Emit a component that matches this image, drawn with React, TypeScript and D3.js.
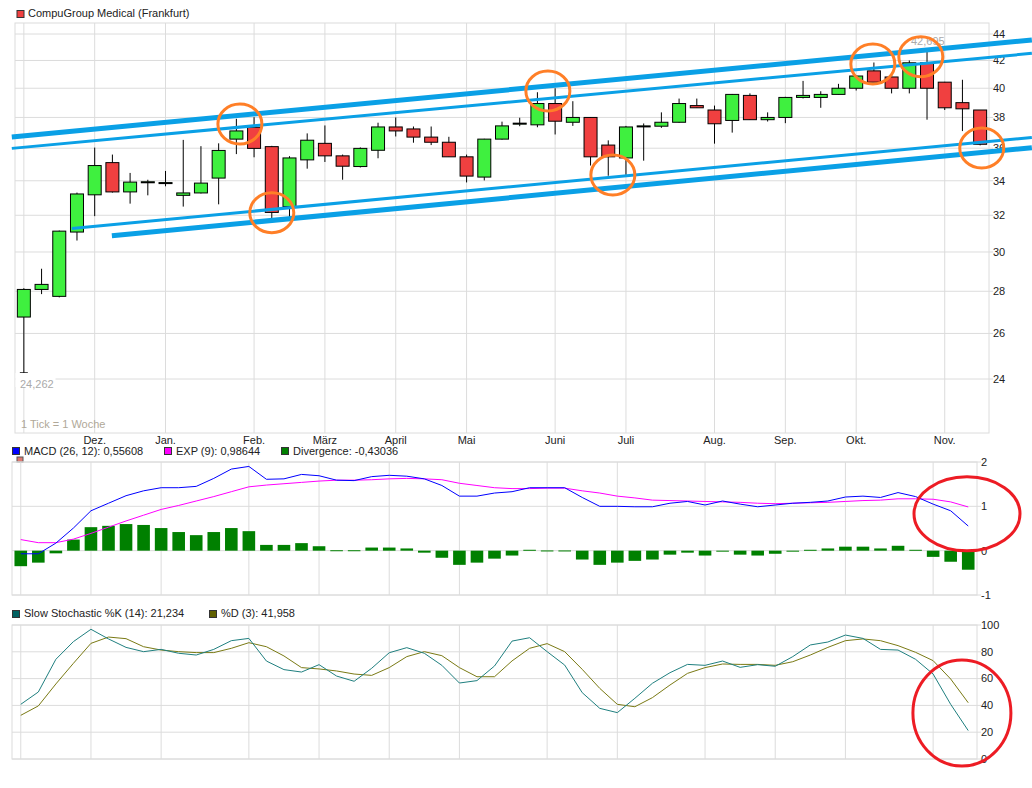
import React from "react";
import * as d3 from "d3";

// weekly candles, CompuGroup Medical (Frankfurt)
const opens = [26.76, 28.09, 27.75, 31.07, 33.17, 35.1, 33.34, 33.88, 33.85, 33.14, 33.28, 34.16, 36.58, 37.35, 36.1, 32.49, 35.27, 36.31, 35.52, 34.86, 35.87, 37.37, 37.24, 36.71, 36.38, 35.46, 34.22, 36.58, 37.58, 37.51, 38.94, 37.68, 38.0, 36.2, 35.39, 37.4, 37.42, 37.68, 38.8, 38.5, 37.8, 39.5, 37.85, 38.0, 39.36, 39.36, 39.57, 40.0, 41.24, 40.8, 40.0, 41.83, 40.43, 39.0, 38.5];
const highs = [28.15, 29.13, 31.15, 33.3, 36.04, 35.6, 34.47, 34.06, 34.59, 36.53, 36.13, 36.31, 37.91, 38.02, 36.15, 35.5, 36.95, 37.47, 35.6, 36.05, 37.65, 38.0, 37.4, 37.4, 36.73, 35.6, 36.6, 37.72, 37.98, 39.72, 40.0, 39.1, 38.02, 36.5, 37.44, 37.6, 38.34, 39.28, 39.28, 38.8, 39.6, 39.64, 38.34, 39.4, 40.52, 39.79, 40.31, 40.9, 41.85, 41.0, 42.0, 42.695, 40.45, 40.6, 38.5];
const lows = [24.262, 27.86, 27.7, 30.61, 31.95, 33.3, 32.66, 33.14, 33.67, 32.49, 33.25, 32.62, 35.63, 35.43, 31.82, 31.9, 34.73, 35.14, 34.06, 34.8, 35.37, 36.75, 36.35, 36.2, 35.46, 33.9, 34.02, 36.55, 37.42, 37.35, 36.88, 37.44, 34.92, 34.3, 34.35, 35.22, 37.31, 37.65, 38.65, 36.29, 37.0, 37.85, 37.73, 37.62, 39.29, 38.65, 39.57, 39.84, 40.43, 39.64, 39.64, 37.85, 38.5, 37.1, 36.18];
const closes = [28.09, 28.34, 31.12, 33.22, 34.92, 33.34, 33.92, 33.94, 33.89, 33.28, 33.86, 35.86, 37.11, 35.99, 32.16, 35.39, 36.51, 35.52, 34.88, 35.99, 37.37, 37.11, 36.71, 36.38, 35.46, 34.28, 36.58, 37.44, 37.62, 38.94, 37.75, 38.0, 35.46, 35.46, 37.37, 37.44, 37.68, 38.94, 38.65, 37.58, 39.57, 37.85, 38.0, 39.36, 39.5, 39.57, 40.0, 40.87, 40.43, 40.0, 41.83, 40.0, 38.65, 38.58, 36.25];

const macd = [-0.07, -0.07, 0.17, 0.51, 0.9, 1.07, 1.24, 1.35, 1.42, 1.42, 1.45, 1.63, 1.84, 1.9, 1.61, 1.62, 1.72, 1.69, 1.59, 1.58, 1.67, 1.7, 1.68, 1.62, 1.47, 1.23, 1.23, 1.3, 1.33, 1.42, 1.42, 1.42, 1.2, 1.0, 1.0, 0.99, 0.99, 1.07, 1.11, 1.03, 1.12, 1.05, 0.99, 1.03, 1.07, 1.09, 1.12, 1.21, 1.23, 1.2, 1.31, 1.22, 1.05, 0.9, 0.556];
const signal = [0.25, 0.18, 0.18, 0.26, 0.39, 0.53, 0.67, 0.8, 0.93, 1.02, 1.12, 1.22, 1.33, 1.44, 1.48, 1.51, 1.54, 1.57, 1.59, 1.59, 1.6, 1.62, 1.63, 1.62, 1.6, 1.52, 1.47, 1.42, 1.4, 1.4, 1.41, 1.41, 1.35, 1.3, 1.23, 1.19, 1.14, 1.13, 1.12, 1.11, 1.1, 1.09, 1.07, 1.06, 1.07, 1.08, 1.09, 1.11, 1.13, 1.14, 1.17, 1.17, 1.16, 1.1, 0.986];
const divergence = [-0.35, -0.27, -0.06, 0.25, 0.53, 0.56, 0.6, 0.58, 0.51, 0.42, 0.35, 0.42, 0.51, 0.44, 0.13, 0.13, 0.17, 0.1, 0.01, 0.01, 0.07, 0.07, 0.05, -0.045, -0.16, -0.32, -0.27, -0.18, -0.11, 0.02, 0.005, 0.005, -0.2, -0.32, -0.27, -0.23, -0.2, -0.09, -0.045, -0.11, -0.02, -0.09, -0.11, -0.07, -0.015, 0.02, 0.05, 0.09, 0.09, 0.05, 0.11, 0.02, -0.14, -0.25, -0.43];

const stochK = [40.8, 50, 74.4, 87.6, 96.8, 89.6, 83.3, 80.1, 81.8, 78.9, 77.6, 81.8, 88.3, 90, 73.1, 66.7, 64.9, 70.4, 61.9, 58, 67.7, 79.3, 83.1, 78.9, 69.9, 56.7, 58.5, 69.4, 88, 90.5, 80.1, 70.1, 49.5, 37.8, 34.6, 45.3, 56.5, 64.4, 70.6, 69.9, 73.1, 68.4, 70.4, 69.2, 76.4, 85.1, 87.3, 92.5, 90, 81.8, 81.3, 74.4, 63.4, 40.8, 21.2];
const stochD = [32.6, 39.6, 56, 71.4, 86.3, 91, 89.8, 83.8, 81.3, 80.1, 79.4, 79.4, 82.6, 86.8, 83.8, 76.9, 68.2, 67.2, 65.7, 63.4, 62.4, 68.2, 76.4, 80.1, 77.1, 68.2, 61.4, 61.4, 73.2, 82.6, 86.1, 80.1, 66.9, 52.7, 40.8, 39, 45.8, 55.2, 63.9, 68.2, 70.9, 70.6, 70.6, 69.9, 72.6, 77.6, 83.3, 88.3, 89.6, 88.3, 84.6, 79.6, 73.4, 59.7, 42.0];

const monthIdx = [0, 4, 8, 13, 17, 21, 25, 30, 34, 39, 43, 47, 52];
const monthLabels = ["", "Dez.", "Jan.", "Feb.", "März", "April", "Mai", "Juni", "Juli", "Aug.", "Sep.", "Okt.", "Nov."];
const priceTicks = [24, 26, 28, 30, 32, 34, 36, 38, 40, 42, 44];
const macdTicks = [2, 1, 0, -1];
const stochTicks = [100, 80, 60, 40, 20, 0];

// hand-drawn channel lines: [fromIdx, fromValue, toIdx, toValue, width]
const channels = [
  [-0.68, 36.71, 56.92, 43.54, 5],
  [-0.68, 35.99, 56.92, 42.53, 3],
  [2.71, 31.27, 56.92, 36.69, 3],
  [4.97, 30.87, 56.92, 36.03, 5],
];
// orange circles: [idx, value]
const marks = [
  [12.2, 37.56], [14.0, 32.14], [29.59, 39.81], [33.26, 34.34],
  [47.94, 41.74], [50.65, 42.28], [54.09, 36.01],
];

const FONT = "'Liberation Sans', Arial, sans-serif";
const GRID = "#dcdcdc";
const n = closes.length;

export default function App() {
  const x = d3.scaleLinear().domain([-0.5, n - 0.5]).range([15, 989]);
  const y = d3.scaleLog().domain([24, 44]).range([379, 34]);
  const xs = d3.scaleLinear().domain([-0.5, n - 0.5]).range([12, 977]);
  const ym = d3.scaleLinear().domain([-1, 2]).range([595, 462]);
  const yk = d3.scaleLinear().domain([0, 100]).range([759, 625]);
  const idx = d3.range(n);

  const macdLine = d3.line<number>().x((_, i) => xs(i)).y((d) => ym(d));
  const stochLine = d3.line<number>().x((_, i) => xs(i)).y((d) => yk(d));

  const subGrid = (yScale, ticks, top, bottom) => (
    <g>
      {ticks.map((t) => (
        <line key={"h" + t} x1={12} x2={981} y1={yScale(t)} y2={yScale(t)} stroke={GRID} />
      ))}
      {monthIdx.map((m) => (
        <line key={"v" + m} x1={xs(m)} x2={xs(m)} y1={top} y2={bottom} stroke={GRID} />
      ))}
      <rect x={12} y={top} width={965} height={bottom - top} fill="none" stroke={GRID} />
      {ticks.map((t) => (
        <text key={"l" + t} x={981} y={yScale(t)} dy="0.35em" fontSize={11} fill="#222">
          {t}
        </text>
      ))}
    </g>
  );

  return (
    <svg width={1032} height={788} style={{ position: "absolute", left: 0, top: 0, background: "#fff" }} fontFamily={FONT}>
      {/* main price panel */}
      {priceTicks.map((t) => (
        <line key={t} x1={15} x2={993} y1={y(t)} y2={y(t)} stroke={GRID} />
      ))}
      {monthIdx.map((m) => (
        <line key={m} x1={x(m)} x2={x(m)} y1={23} y2={433} stroke={GRID} />
      ))}
      <rect x={15} y={23} width={974} height={410} fill="none" stroke={GRID} />
      {priceTicks.map((t) => (
        <text key={"t" + t} x={993} y={y(t)} dy="0.35em" fontSize={11} fill="#222">
          {t}
        </text>
      ))}
      {monthIdx.map((m, i) => (
        <text key={"m" + m} x={x(m)} y={443.5} textAnchor="middle" fontSize={11} fill="#222">
          {monthLabels[i]}
        </text>
      ))}

      <rect x={17} y={10.5} width={7} height={7} fill="#f04040" stroke="#333" />
      <text x={28} y={17} fontSize={11} fill="#222">CompuGroup Medical (Frankfurt)</text>

      {idx.map((i) => {
        const o = opens[i], c = closes[i];
        const top = y(Math.max(o, c));
        const h = Math.max(1, Math.abs(y(o) - y(c)));
        return (
          <g key={i}>
            <line x1={x(i)} x2={x(i)} y1={y(highs[i])} y2={y(lows[i])} stroke="#000" />
            <rect x={x(i) - 6.5} y={top} width={13} height={h} fill={c >= o ? "#3ff03f" : "#f04040"} stroke="#000" />
          </g>
        );
      })}
      <line x1={x(0) - 4} x2={x(0) + 4} y1={y(lows[0])} y2={y(lows[0])} stroke="#000" />

      <rect x={15.5} y={373} width={40} height={14} fill="#fff" />
      <text x={20} y={388} fontSize={11} fill="#aaa">24,262</text>
      <text x={21} y={428} fontSize={11} fill="#b0a898">1 Tick = 1 Woche</text>
      <text x={911} y={45} fontSize={11} fill="#aaa">42,695</text>

      {channels.map((c, i) => (
        <line key={"c" + i} x1={x(c[0])} y1={y(c[1])} x2={x(c[2])} y2={y(c[3])} stroke="#0aa0e6" strokeWidth={c[4]} />
      ))}
      {marks.map((m, i) => (
        <ellipse key={"o" + i} cx={x(m[0])} cy={y(m[1])} rx={22} ry={20} fill="none" stroke="#ff7f27" strokeWidth={3} />
      ))}

      {/* MACD panel */}
      <rect x={17} y={457} width={6} height={5} fill="#e07870" stroke="#555" />
      {subGrid(ym, macdTicks, 462, 595)}
      {idx.map((i) => (
        <rect key={"d" + i} x={xs(i) - 6.3} width={12.6}
          y={ym(Math.max(0, divergence[i]))}
          height={Math.max(1, Math.abs(ym(divergence[i]) - ym(0)))}
          fill="#008000" />
      ))}
      <path d={macdLine(signal) || ""} fill="none" stroke="#ff00ff" strokeWidth={1} />
      <path d={macdLine(macd) || ""} fill="none" stroke="#0000ff" strokeWidth={1} />
      <rect x={12.5} y={447.5} width={7} height={7} fill="#0000ff" stroke="#333" />
      <text x={24} y={454.5} fontSize={11} fill="#222">MACD (26, 12): 0,55608</text>
      <rect x={164.5} y={447.5} width={7} height={7} fill="#ff00ff" stroke="#333" />
      <text x={176} y={454.5} fontSize={11} fill="#222">EXP (9): 0,98644</text>
      <rect x={281.5} y={447.5} width={7} height={7} fill="#008000" stroke="#333" />
      <text x={293} y={454.5} fontSize={11} fill="#222">Divergence: -0,43036</text>
      <ellipse cx={xs(53.93)} cy={ym(0.83)} rx={53} ry={37} fill="none" stroke="#ed1c24" strokeWidth={3} />

      {/* slow stochastic panel */}
      {subGrid(yk, stochTicks, 625, 759)}
      <path d={stochLine(stochD) || ""} fill="none" stroke="#7a7a14" strokeWidth={1} />
      <path d={stochLine(stochK) || ""} fill="none" stroke="#1f7f7f" strokeWidth={1} />
      <rect x={12.5} y={610.5} width={7} height={7} fill="#006060" stroke="#333" />
      <text x={24} y={617} fontSize={11} fill="#222">Slow Stochastic %K (14): 21,234</text>
      <rect x={209.5} y={610.5} width={7} height={7} fill="#606000" stroke="#333" />
      <text x={221} y={617} fontSize={11} fill="#222">%D (3): 41,958</text>
      <ellipse cx={xs(53.64)} cy={yk(34.3)} rx={49} ry={53} fill="none" stroke="#ed1c24" strokeWidth={3} />
    </svg>
  );
}
